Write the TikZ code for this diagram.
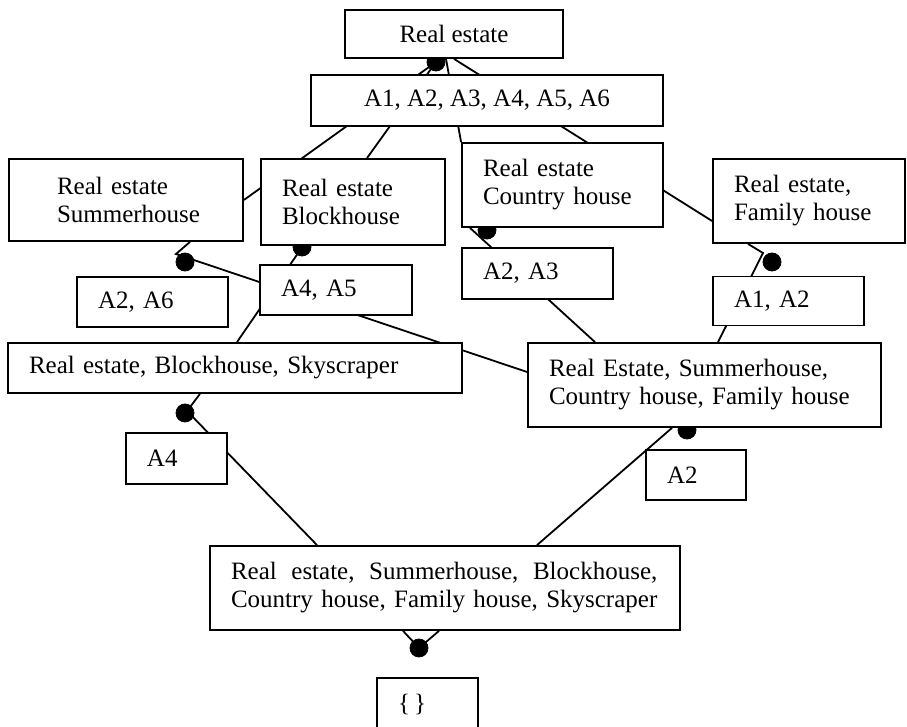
\documentclass[tikz,border=0pt]{standalone}
\usepackage{fontspec}
\setmainfont{Liberation Serif}
\usepackage{calc}
\usetikzlibrary{backgrounds}

\newlength\botline

\tikzset{
	box/.style={draw, fill=white, line width=0.9pt, inner xsep=10.5pt, inner ysep=0pt, align=left},
	link/.style={line width=0.9pt},
}

\begin{document}
\begin{tikzpicture}[x=0.5pt, y=-0.5pt, every node/.style={font=\fontsize{12.5}{14}\selectfont}]
	\useasboundingbox (0,0) rectangle (907,727);

	\node[box, align=center, inner xsep=0pt, minimum width=109pt, minimum height=24pt] (top) at (454,34) {Real estate};
	\node[box, align=center, inner xsep=0pt, minimum width=176pt, minimum height=25.5pt] (all) at (487,100.5) {A1, A2, A3, A4, A5, A6};

	\node[box, inner xsep=24pt, text width=69pt, minimum height=41pt] (sum) at (126,200) {Real estate\\\mbox{Summerhouse}};
	\node[box, text width=71pt, minimum height=43pt] (blk) at (353,202) {Real estate\\Blockhouse};
	\node[box, text width=79.5pt, minimum height=42pt] (cty) at (562.5,185) {Real estate\\Country house};
	\node[box, text width=75pt, minimum height=42pt] (fam) at (809,201) {Real estate,\\Family house};

	\node[box, text width=54.5pt, minimum height=25pt] (a26) at (152.5,302) {A2, A6};
	\node[box, text width=55pt, minimum height=25pt] (a45) at (336,290) {A4, A5};
	\node[box, text width=54.5pt, minimum height=25.5pt] (a23) at (537.5,273.5) {A2, A3};
	\node[box, text width=54.5pt, minimum height=24.5pt] (a12) at (788.5,301) {A1, A2};

	\node[box, text width=206pt, minimum height=25pt] (sky) at (235,368) {Real estate, Blockhouse, Skyscraper};
	\node[box, text width=155.5pt, minimum height=42pt] (re) at (704.5,385) {Real Estate, Summerhouse,\\Country house, Family house};

	\node[box, text width=29.5pt, minimum height=25.5pt] (a4) at (176.5,458.5) {A4};
	\node[box, text width=29pt, minimum height=25pt] (a2) at (696,475) {A2};

	\node[box, text width=214pt, minimum height=42pt] (bot) at (445,588) {\settowidth{\botline}{Country house, Family house, Skyscraper}\hbox to \botline{Real\hfill estate,\hfill Summerhouse,\hfill Blockhouse,}\\Country house, Family house, Skyscraper};
	\node[box, text width=29.5pt, minimum height=27pt] (empty) at (427.5,705) {\{\,\}};

	\coordinate (d0) at (436,62);
	\coordinate (d1) at (185,262);
	\coordinate (d2) at (185,413);
	\coordinate (d3) at (302,247);
	\coordinate (d4) at (487,230);
	\coordinate (d5) at (772,262);
	\coordinate (d6) at (687,430);
	\coordinate (d7) at (419,648);
	\coordinate (k1) at (176,254);
	\coordinate (k2) at (187,411);
	\coordinate (k3) at (763,253);

	\begin{scope}[on background layer]
		\draw[link] (d0) -- (sum.east);
		\draw[link] (d0) -- ([xshift=7pt]blk.north);
		\draw[link] ([xshift=-4pt]top.south) -- (cty.north west);
		\draw[link] (top.south) -- ([yshift=-10pt]fam.west);
		\draw[link] ([xshift=32pt]sum.south) -- (k1) -- ([yshift=6.5pt]re.west);
		\draw[link] ([xshift=-25pt]blk.south) -- ([xshift=1pt]sky.north);
		\draw[link] ([xshift=-46.25pt]cty.south) -- ([xshift=-54.75pt]re.north);
		\draw[link] ([xshift=-30.5pt]fam.south) -- (k3) -- ([xshift=6.75pt]re.north);
		\draw[link] ([xshift=-17.5pt]sky.south) -- (k2) -- ([xshift=-64pt]bot.north);
		\draw[link] ([xshift=-16.25pt]re.south) -- ([xshift=46pt]bot.north);
		\draw[link] ([xshift=-21pt]bot.south) -- (d7) -- ([xshift=-3pt]bot.south);
		\foreach \d in {d0,d1,d2,d3,d4,d5,d6,d7}
			\filldraw (\d) circle (4.5pt);
	\end{scope}
\end{tikzpicture}
\end{document}
